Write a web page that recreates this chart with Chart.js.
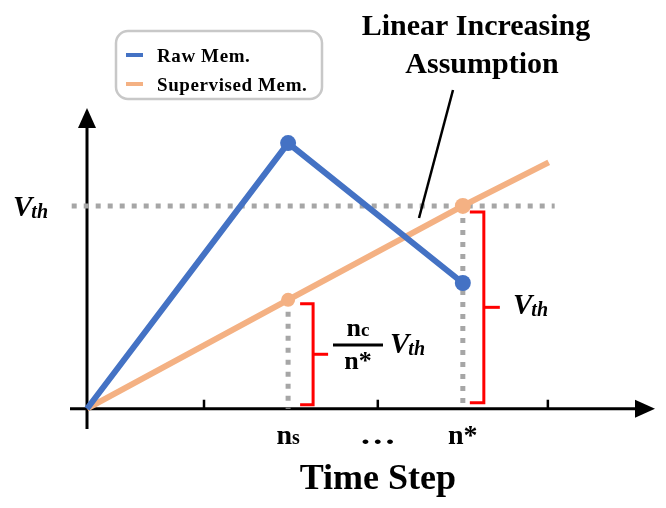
<!DOCTYPE html>
<html>
<head>
<meta charset="utf-8">
<script src="https://cdn.jsdelivr.net/npm/chart.js@4.4.0/dist/chart.umd.min.js"></script>
<style>
  html, body { margin: 0; padding: 0; background: #fff; }
  #wrap { width: 666px; height: 508px; }
</style>
</head>
<body>
<div id="wrap"><canvas id="memChart" width="666" height="508"></canvas></div>
<script>
// Time step positions (x) and membrane values (y, in units of Vth)
const stepLabels = ['ns', '…', 'n*'];
const stepPositions = [2.365, 3.42, 4.42];
const plainTicks = [1.376, 3.42, 5.42];

const rawX = [0, 2.365, 4.42];
const rawY = [0, 1.31, 0.62];

const supX = [0, 2.365, 4.42, 5.43];
const supY = [0, 0.537, 1.0, 1.215];

const vth = 1.0;
const vthLineRange = [-0.18, 5.5];

const legendNames = ['Raw Mem.', 'Supervised Mem.'];
const seriesColors = ['#4472C4', '#F4B183'];

const toPoints = (xs, ys) => xs.map((x, i) => ({ x: x, y: ys[i] }));

// Draw axes, brackets, labels and the legend box
const diagramPlugin = {
    id: 'diagram',
    beforeDatasetsDraw(chart) {
        const ctx = chart.ctx;
        const xs = chart.scales.x;
        const ys = chart.scales.y;
        const ox = xs.getPixelForValue(0);
        const oy = ys.getPixelForValue(0);
        ctx.save();
        ctx.strokeStyle = '#000';
        ctx.fillStyle = '#000';
        ctx.lineWidth = 3;
        // y axis
        const yTop = ys.getPixelForValue(ys.max);
        ctx.beginPath();
        ctx.moveTo(ox, ys.getPixelForValue(ys.min));
        ctx.lineTo(ox, yTop + 14);
        ctx.stroke();
        ctx.beginPath();
        ctx.moveTo(ox, yTop);
        ctx.lineTo(ox - 9, yTop + 20);
        ctx.lineTo(ox + 9, yTop + 20);
        ctx.closePath();
        ctx.fill();
        // x axis
        const xRight = xs.getPixelForValue(xs.max);
        ctx.beginPath();
        ctx.moveTo(xs.getPixelForValue(xs.min), oy);
        ctx.lineTo(xRight - 14, oy);
        ctx.stroke();
        ctx.beginPath();
        ctx.moveTo(xRight, oy);
        ctx.lineTo(xRight - 20, oy - 9);
        ctx.lineTo(xRight - 20, oy + 9);
        ctx.closePath();
        ctx.fill();
        // small ticks
        ctx.lineWidth = 2.5;
        plainTicks.forEach(v => {
            const px = xs.getPixelForValue(v);
            ctx.beginPath();
            ctx.moveTo(px, oy - 9);
            ctx.lineTo(px, oy);
            ctx.stroke();
        });
        ctx.restore();
    },
    afterDatasetsDraw(chart) {
        const ctx = chart.ctx;
        const xs = chart.scales.x;
        const ys = chart.scales.y;
        const oy = ys.getPixelForValue(0);
        ctx.save();

        // red brackets
        ctx.strokeStyle = '#FF0000';
        ctx.lineWidth = 3;
        const bracket = (x0, xb, top, bottom, tip) => {
            ctx.beginPath();
            ctx.moveTo(x0, top);
            ctx.lineTo(xb, top);
            ctx.lineTo(xb, bottom);
            ctx.lineTo(x0, bottom);
            ctx.stroke();
            const mid = (top + bottom) / 2;
            ctx.beginPath();
            ctx.moveTo(xb, mid);
            ctx.lineTo(xb + tip, mid);
            ctx.stroke();
        };
        const nsPx = xs.getPixelForValue(stepPositions[0]);
        const nStarPx = xs.getPixelForValue(stepPositions[2]);
        bracket(nsPx + 12, nsPx + 25, ys.getPixelForValue(supY[1]) + 4, oy - 4, 15);
        bracket(nStarPx + 7, nStarPx + 21, ys.getPixelForValue(vth) + 6, oy - 6, 16);

        // annotation pointer line
        ctx.strokeStyle = '#000';
        ctx.lineWidth = 2.5;
        ctx.beginPath();
        ctx.moveTo(453, 90);
        ctx.lineTo(419, 218);
        ctx.stroke();

        // text
        ctx.fillStyle = '#000';
        const serif = '"Liberation Serif", "Times New Roman", serif';
        const drawVth = (x, y) => {
            ctx.textAlign = 'left';
            ctx.textBaseline = 'alphabetic';
            ctx.font = 'italic bold 29px ' + serif;
            ctx.fillText('V', x, y);
            const w = ctx.measureText('V').width;
            ctx.font = 'italic bold 20px ' + serif;
            ctx.fillText('th', x + w - 1, y + 2);
        };
        drawVth(13, ys.getPixelForValue(vth) + 10);
        drawVth(513, 314);
        drawVth(390, 353);

        // fraction nc / n*
        ctx.textAlign = 'left';
        ctx.font = 'bold 26px ' + serif;
        const nW = ctx.measureText('n').width;
        ctx.font = 'bold 19px ' + serif;
        const cW = ctx.measureText('c').width;
        const fracMid = 358;
        let sx = fracMid - (nW + cW) / 2;
        ctx.font = 'bold 26px ' + serif;
        ctx.fillText('n', sx, 336);
        ctx.font = 'bold 19px ' + serif;
        ctx.fillText('c', sx + nW, 336);
        ctx.lineWidth = 3;
        ctx.beginPath();
        ctx.moveTo(333, 345);
        ctx.lineTo(383, 345);
        ctx.stroke();
        ctx.font = 'bold 26px ' + serif;
        ctx.textAlign = 'center';
        ctx.fillText('n*', fracMid, 369);

        // step labels under the axis
        stepLabels.forEach((lab, i) => {
            const px = xs.getPixelForValue(stepPositions[i]);
            ctx.textAlign = 'left';
            if (lab === 'ns') {
                ctx.font = 'bold 28px ' + serif;
                const w1 = ctx.measureText('n').width;
                ctx.font = 'bold 20px ' + serif;
                const w2 = ctx.measureText('s').width;
                const start = px - (w1 + w2) / 2;
                ctx.font = 'bold 28px ' + serif;
                ctx.fillText('n', start, 444);
                ctx.font = 'bold 20px ' + serif;
                ctx.fillText('s', start + w1, 444);
            } else if (lab === '…') {
                ctx.save();
                ctx.translate(px, 444);
                ctx.scale(1.35, 1);
                ctx.font = 'bold 27px ' + serif;
                ctx.textAlign = 'center';
                ctx.fillText(lab, 0, 0);
                ctx.restore();
            } else {
                ctx.font = 'bold 28px ' + serif;
                ctx.textAlign = 'center';
                ctx.fillText(lab, px, 444);
            }
        });

        // axis title
        ctx.textAlign = 'center';
        ctx.font = 'bold 36px ' + serif;
        ctx.fillText('Time Step', xs.getPixelForValue(stepPositions[1]), 489);

        // annotation title
        ctx.font = 'bold 30px ' + serif;
        ctx.fillText('Linear Increasing', 476, 35);
        ctx.fillText('Assumption', 482, 73);

        // legend box
        ctx.strokeStyle = '#C8C8C8';
        ctx.lineWidth = 2.5;
        ctx.beginPath();
        ctx.roundRect(116, 31, 206, 68, 12);
        ctx.stroke();
        ctx.font = 'bold 19px ' + serif;
        ctx.letterSpacing = '0.6px';
        ctx.textAlign = 'left';
        legendNames.forEach((name, i) => {
            const ly = 62 + i * 29;
            ctx.fillStyle = seriesColors[i];
            ctx.fillRect(126, ly - 9, 17, 4);
            ctx.fillStyle = '#000';
            ctx.fillText(name, 157, ly);
        });
        ctx.letterSpacing = '0px';

        ctx.restore();
    }
};

const grayDotted = {
    borderColor: '#A6A6A6',
    borderWidth: 5,
    borderDash: [5, 7],
    borderCapStyle: 'butt',
    pointRadius: 0,
    fill: false,
    order: 5
};

new Chart(document.getElementById('memChart'), {
    type: 'line',
    data: {
        datasets: [
            {
                label: legendNames[0],
                data: toPoints(rawX, rawY),
                borderColor: seriesColors[0],
                backgroundColor: seriesColors[0],
                borderWidth: 6,
                pointRadius: [0, 8, 8],
                pointBorderWidth: 0,
                order: 1
            },
            {
                label: legendNames[1],
                data: toPoints(supX, supY),
                borderColor: seriesColors[1],
                backgroundColor: seriesColors[1],
                borderWidth: 6,
                pointRadius: [0, 7, 8, 0],
                pointBorderWidth: 0,
                order: 2
            },
            Object.assign({ label: 'vth', data: vthLineRange.map(x => ({ x: x, y: vth })) }, grayDotted),
            Object.assign({ label: 'ns drop', data: [{ x: stepPositions[0], y: supY[1] }, { x: stepPositions[0], y: 0 }] }, grayDotted),
            Object.assign({ label: 'n* drop', data: [{ x: stepPositions[2], y: vth }, { x: stepPositions[2], y: 0 }] }, grayDotted)
        ]
    },
    options: {
        responsive: false,
        animation: false,
        layout: { padding: { left: 70, right: 11, top: 108, bottom: 79 } },
        plugins: {
            legend: { display: false },
            tooltip: { enabled: false }
        },
        scales: {
            x: { type: 'linear', min: -0.2, max: 6.68, display: false },
            y: { type: 'linear', min: -0.1, max: 1.483, display: false }
        },
        elements: { line: { tension: 0 } }
    },
    plugins: [diagramPlugin]
});
</script>
</body>
</html>
